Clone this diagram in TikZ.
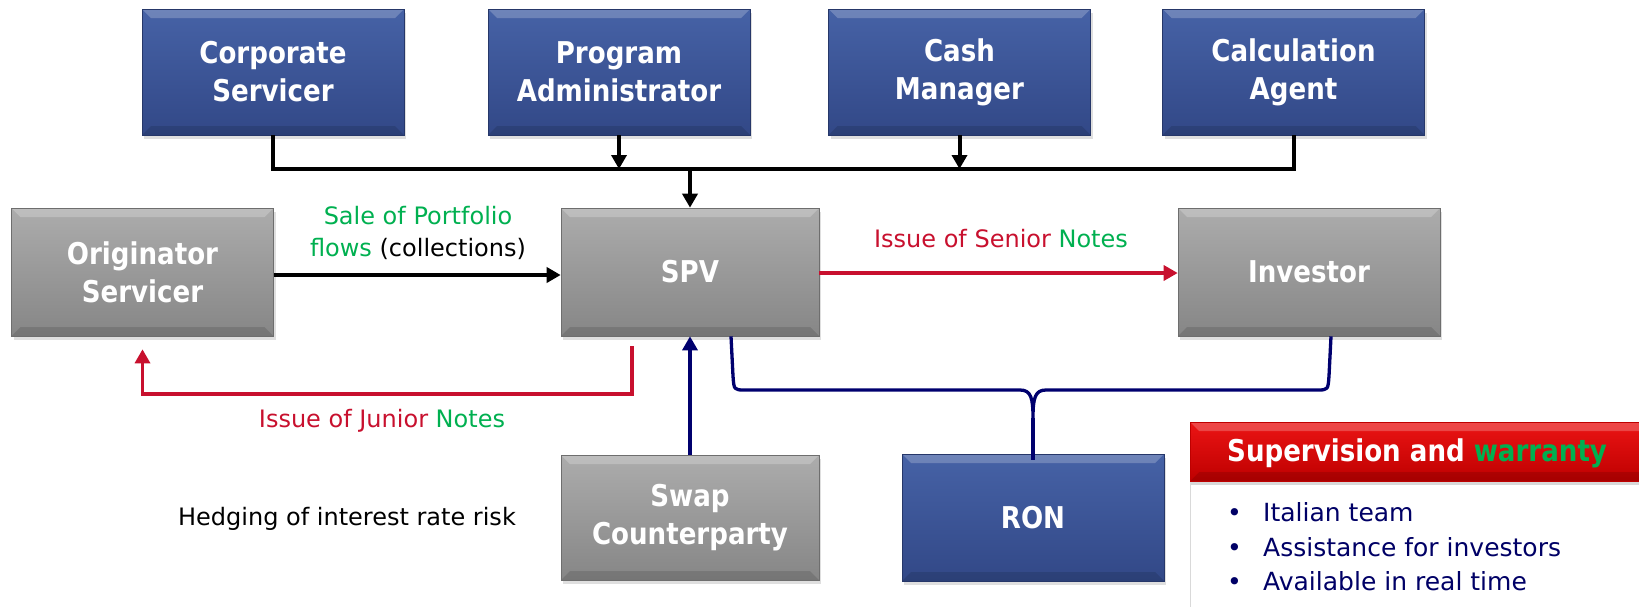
\documentclass[tikz,border=0pt]{standalone}
\usepackage{fontspec}
\setmainfont{DejaVu Sans}
\newfontfamily\bxf{DejaVu Sans}[FakeStretch=0.87]
\usetikzlibrary{arrows.meta,shadows,calc}
\definecolor{blueT}{RGB}{70,98,166}
\definecolor{blueB}{RGB}{50,72,135}
\definecolor{blueD}{RGB}{38,55,105}
\definecolor{greyT}{RGB}{172,172,172}
\definecolor{greyB}{RGB}{134,134,134}
\definecolor{greyD}{RGB}{110,110,110}
\definecolor{redT}{RGB}{235,20,20}
\definecolor{redB}{RGB}{190,0,0}
\definecolor{noteRed}{RGB}{200,16,46}
\definecolor{noteGreen}{RGB}{0,176,80}
\definecolor{navyL}{RGB}{0,0,110}
\definecolor{navyT}{RGB}{0,0,102}
\newcommand\boxfont{\bxf\bfseries\fontsize{30}{38}\selectfont}
\newcommand\lblfont{\fontsize{24}{32}\selectfont}
\tikzset{
  bevel/.style={path picture={
    \fill[white,opacity=0.22] (path picture bounding box.north west) -- (path picture bounding box.north east) -- ([xshift=-9pt,yshift=-9pt]path picture bounding box.north east) -- ([xshift=9pt,yshift=-9pt]path picture bounding box.north west) -- cycle;
    \fill[black,opacity=0.12] (path picture bounding box.south west) -- (path picture bounding box.south east) -- ([xshift=-9pt,yshift=9pt]path picture bounding box.south east) -- ([xshift=9pt,yshift=9pt]path picture bounding box.south west) -- cycle;
  }},
  box/.style={rectangle, minimum width=262pt, minimum height=126pt, inner sep=0pt,
    text=white, font=\boxfont, align=center, line width=0.6pt, bevel,
    drop shadow={shadow xshift=2pt,shadow yshift=-4pt,opacity=0.25}},
  bluebox/.style={box, top color=blueT, bottom color=blueB, draw=blueD},
  greybox/.style={box, top color=greyT, bottom color=greyB, draw=greyD},
  lbl/.style={font=\lblfont, align=center, inner sep=0pt},
  blk/.style={line width=4pt, black},
  redln/.style={line width=3.3pt, noteRed},
  navln/.style={line width=3.3pt, navyL},
  tip/.style={-{Triangle[width=15pt,length=14pt]}},
}
\begin{document}
\begin{tikzpicture}[x=1pt,y=-1pt]
\useasboundingbox (0,0) rectangle (1639,606);
% top row
\node[bluebox] (corp) at (273,72) {Corporate\\Servicer};
\node[bluebox] (prog) at (619,72) {Program\\Administrator};
\node[bluebox] (cash) at (959.5,72) {Cash\\Manager};
\node[bluebox] (calc) at (1293.5,72) {Calculation\\Agent};
% middle row
\node[greybox, minimum height=128pt] (orig) at (142.5,272) {Originator\\Servicer};
\node[greybox, minimum width=258pt, minimum height=128pt] (spv) at (690,272) {SPV};
\node[greybox, minimum height=128pt] (inv) at (1309,272) {Investor};
% bottom row
\node[greybox, minimum width=258pt, minimum height=125pt] (swap) at (690,517.5) {Swap\\Counterparty};
\node[bluebox, minimum height=127pt] (ron) at (1033,517.5) {RON};
% supervision panel
\node[rectangle, anchor=north west, draw=black!15, fill=white, line width=1pt, minimum width=470pt, minimum height=140pt] (pan) at (1190,481) {};
\node[rectangle, anchor=north west, minimum width=460pt, minimum height=59pt, inner sep=0pt,
  top color=redT, bottom color=redB, draw=redB, bevel,
  drop shadow={shadow xshift=1pt,shadow yshift=-4pt,opacity=0.3}] (sup) at (1190,422) {};
\node[anchor=west, inner sep=0pt, text=white, font=\boxfont] (suptxt) at (1227,453) {Supervision and \textcolor{noteGreen}{warranty}};
\node[anchor=west, inner sep=0pt, text=navyT, font=\fontsize{25}{30}\selectfont] (b1) at (1227,512) {\makebox[36pt][l]{•}Italian team};
\node[anchor=west, inner sep=0pt, text=navyT, font=\fontsize{25}{30}\selectfont] (b2) at (1227,547) {\makebox[36pt][l]{•}Assistance for investors};
\node[anchor=west, inner sep=0pt, text=navyT, font=\fontsize{25}{30}\selectfont] (b3) at (1227,581) {\makebox[36pt][l]{•}Available in real time};
% labels
\node[lbl] (sale) at (418,233) {\textcolor{noteGreen}{Sale of Portfolio}\\\textcolor{noteGreen}{flows} (collections)};
\node[lbl, text=noteRed] (senior) at (1001,239) {Issue of Senior \textcolor{noteGreen}{Notes}};
\node[lbl, text=noteRed] (junior) at (382,421) {Issue of Junior \textcolor{noteGreen}{Notes}};
\node[lbl] (hedge) at (347,519) {Hedging of interest rate risk};
% top bus
\coordinate (bus) at (0,169);
\draw[blk] (corp.south) -- (corp.south |- bus) -| (calc.south);
\draw[blk,tip] (prog.south) -- (prog.south |- bus);
\draw[blk,tip] (cash.south) -- (cash.south |- bus);
\draw[blk,tip] (spv.north |- bus) -- (spv.north);
% middle arrows
\draw[blk,tip] (orig.east |- 0,275) -- (spv.west |- 0,275);
\draw[redln,tip] (spv.east |- 0,273) -- (inv.west |- 0,273);
% junior notes
\coordinate (jstart) at ([xshift=-58pt,yshift=-10pt]spv.south);
\draw[redln,tip] (jstart) -- (jstart |- 0,394) -| ([yshift=-13pt]orig.south);
% swap
\draw[navln,tip] (swap.north) -- (spv.south);
% brace
\coordinate (bL) at ([xshift=41pt]spv.south);
\coordinate (bR) at ([xshift=22pt]inv.south);
\coordinate (bT) at ([yshift=-6pt]ron.north);
\coordinate (bar) at (0,390);
\coordinate (J) at ($(bT |- bar)+(0,28)$);
\draw[navln, line join=round] (bL) -- ($(bL |- bar)+(2,-14)$) .. controls ($(bL |- bar)+(3,0)$) .. ($(bL |- bar)+(14,0)$)
  -- ($(bT |- bar)+(-13,0)$) .. controls ($(bT |- bar)+(-2,0)$) and ($(bT |- bar)+(0,8)$) .. (J)
  .. controls ($(bT |- bar)+(0,8)$) and ($(bT |- bar)+(2,0)$) .. ($(bT |- bar)+(13,0)$)
  -- ($(bR |- bar)+(-14,0)$) .. controls ($(bR |- bar)+(-3,0)$) .. ($(bR |- bar)+(-2,-14)$) -- (bR);
\draw[navln] (J) -- (bT);
\end{tikzpicture}
\end{document}
